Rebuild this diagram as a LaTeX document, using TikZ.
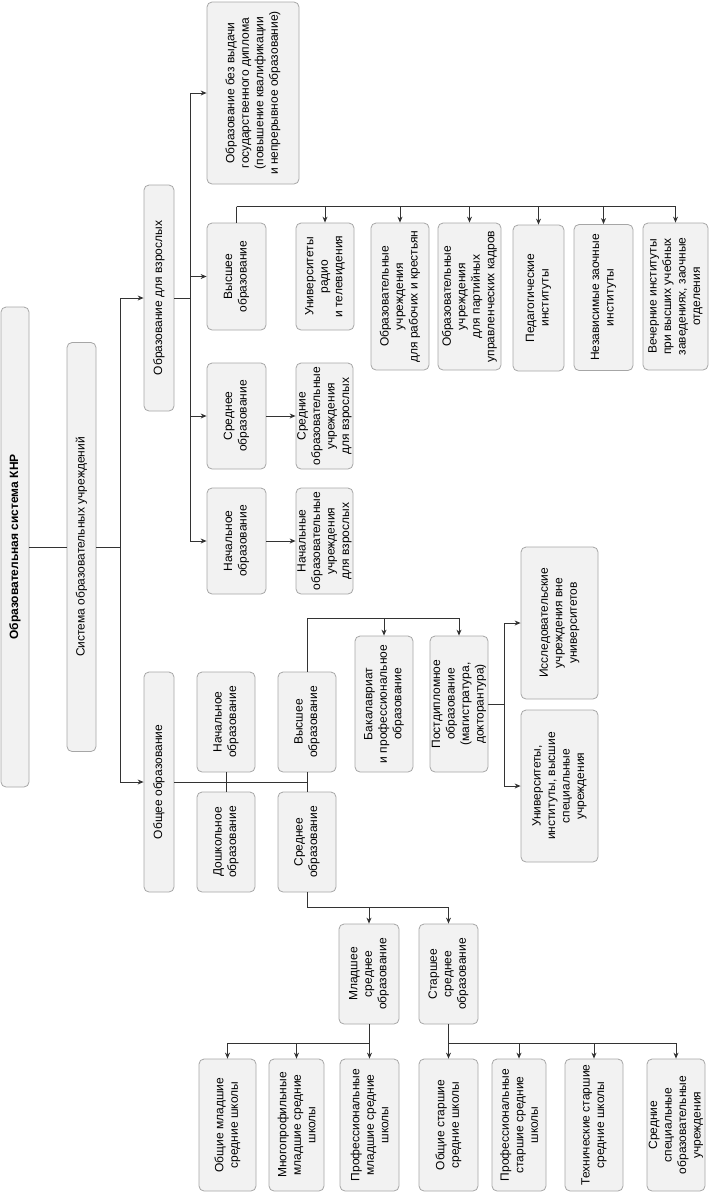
\documentclass[tikz,border=0pt]{standalone}
\usepackage{fontspec}
\setmainfont{Liberation Sans}
\usetikzlibrary{arrows.meta}

\begin{document}
\begin{tikzpicture}[x=1pt, y=-1pt,
		box/.style={draw=gray!70, fill=gray!10, rounded corners=5pt, rotate=90, align=center,
			inner sep=1pt, line width=0.8pt, font=\fontsize{12}{14.5}\selectfont},
		dims/.style 2 args={minimum height=#1, minimum width=#2},
		link/.style={draw=black!80, line width=0.9pt},
		>={Stealth[length=6pt, width=5pt]}]
			\useasboundingbox (0,0) rectangle (709,1195);
			
			% top levels
			\node[box, dims={28}{480}, font=\fontsize{12}{14.5}\selectfont\bfseries] (root) at (15,547) {Образовательная система КНР};
			\node[box, dims={29}{409}] (sys) at (81.5,547) {Система образовательных учреждений};
			\node[box, dims={30}{226}] (adult) at (159,298) {Образование для взрослых};
			\node[box, dims={30}{220}] (general) at (159,782) {Общее образование};
			
			% adults
			\node[box, dims={92}{182}] (nodiploma) at (253,93) {Образование без выдачи\\государственного диплома\\(повышение квалификации\\и непрерывное образование)};
			\node[box, dims={59}{107}] (adhigher) at (236.5,276.5) {Высшее\\образование};
			\node[box, dims={59}{106}] (adsecond) at (236.5,416) {Среднее\\образование};
			\node[box, dims={59}{106}] (adprimary) at (236.5,541) {Начальное\\образование};
			\node[box, dims={57}{106}] (adsecinst) at (324.5,416) {Средние\\образовательные\\учреждения\\для взрослых};
			\node[box, dims={57}{106}] (adpriminst) at (324.5,541) {Начальные\\образовательные\\учреждения\\для взрослых};
			
			\node[box, dims={58}{107}] (radio) at (325,276.5) {Университеты\\радио\\и телевидения};
			\node[box, dims={58}{147}] (workers) at (400,296.5) {Образовательные\\учреждения\\для рабочих и крестьян};
			\node[box, dims={63}{147}] (party) at (469.5,296.5) {Образовательные\\учреждения\\для партийных\\управленческих кадров};
			\node[box, dims={51}{146}] (pedag) at (538.5,298) {Педагогические\\институты};
			\node[box, dims={59}{146}] (corresp) at (603.5,297.5) {Независимые заочные\\институты};
			\node[box, dims={65}{147}] (evening) at (675.5,296.5) {Вечерние институты\\при высших учебных\\заведениях, заочные\\отделения};
			
			% general education
			\node[box, dims={58}{100}] (genprimary) at (226,722) {Начальное\\образование};
			\node[box, dims={58}{100}] (preschool) at (226,842) {Дошкольное\\образование};
			\node[box, dims={58}{100}] (genhigher) at (307,722) {Высшее\\образование};
			\node[box, dims={58}{100}] (gensecond) at (307,842) {Среднее\\образование};
			
			\node[box, dims={58}{136}] (bachelor) at (384,704) {Бакалавриат\\и профессиональное\\образование};
			\node[box, dims={58}{136}] (postgrad) at (459,704) {Постдипломное\\образование\\(магистратура,\\докторантура)};
			\node[box, dims={77}{152}] (research) at (559.5,623) {Исследовательские\\учреждения вне\\университетов};
			\node[box, dims={77}{152}] (univ) at (559.5,786) {Университеты,\\институты, высшие\\специальные\\учреждения};
			
			\node[box, dims={60}{100}] (junior) at (369,974) {Младшее\\среднее\\образование};
			\node[box, dims={59}{100}] (senior) at (448.5,974) {Старшее\\среднее\\образование};
			
			\node[box, dims={57}{132}] (jgeneral) at (227.5,1125) {Общие младшие\\средние школы};
			\node[box, dims={55}{132}] (jmulti) at (296.5,1125) {Многопрофильные\\младшие средние\\школы};
			\node[box, dims={59}{132}] (jprof) at (369.5,1125) {Профессиональные\\младшие средние\\школы};
			\node[box, dims={59}{132}] (sgeneral) at (448.5,1125) {Общие старшие\\средние школы};
			\node[box, dims={54}{132}] (sprof) at (519,1125) {Профессиональные\\старшие средние\\школы};
			\node[box, dims={58}{132}] (stech) at (594,1125) {Технические старшие\\средние школы};
			\node[box, dims={58}{132}] (sspec) at (676,1125) {Средние\\специальные\\образовательные\\учреждения};
			
			% connectors
			\draw[link] (root.south) -- (sys.north);
			\draw[link] (sys.south) -- ++(24,0) coordinate (sysj);
			\draw[link, ->] (sysj) |- (adult.north);
			\draw[link, ->] (sysj) |- (general.north);
			
			\draw[link] (adult.south) -- ++(16,0) coordinate (adj);
			\foreach \n in {nodiploma, adhigher, adsecond, adprimary}
				\draw[link, ->] (adj) |- (\n.north);
			\draw[link, ->] (adsecond.south) -- (adsecinst.north);
			\draw[link, ->] (adprimary.south) -- (adpriminst.north);
			
			\draw[link] (adhigher.east) -- ++(0,-16) coordinate (hij);
			\foreach \n in {radio, workers, party, pedag, corresp, evening}
				\draw[link, ->] (hij) -| (\n.east);
			
			\draw[link] (general.south) -- (genhigher.west |- general.south);
			\draw[link] (genprimary.west) -- (preschool.east);
			\draw[link] (genhigher.west) -- (gensecond.east);
			
			\draw[link] (genhigher.east) -- ++(0,-53) coordinate (ghj);
			\draw[link, ->] (ghj) -| (bachelor.east);
			\draw[link, ->] (ghj) -| (postgrad.east);
			
			\draw[link] (postgrad.south) -- ++(16,0) coordinate (pgj);
			\draw[link, ->] (pgj) |- (research.north);
			\draw[link, ->] (pgj) |- (univ.north);
			
			\draw[link] (gensecond.west) -- ++(0,15) coordinate (gsj);
			\draw[link, ->] (gsj) -| (junior.east);
			\draw[link, ->] (gsj) -| (senior.east);
			
			\draw[link] (junior.west) -- ++(0,19) coordinate (jj);
			\foreach \n in {jgeneral, jmulti, jprof}
				\draw[link, ->] (jj) -| (\n.east);
			
			\draw[link] (senior.west) -- ++(0,19) coordinate (sj);
			\foreach \n in {sgeneral, sprof, stech, sspec}
				\draw[link, ->] (sj) -| (\n.east);
		\end{tikzpicture}
\end{document}
